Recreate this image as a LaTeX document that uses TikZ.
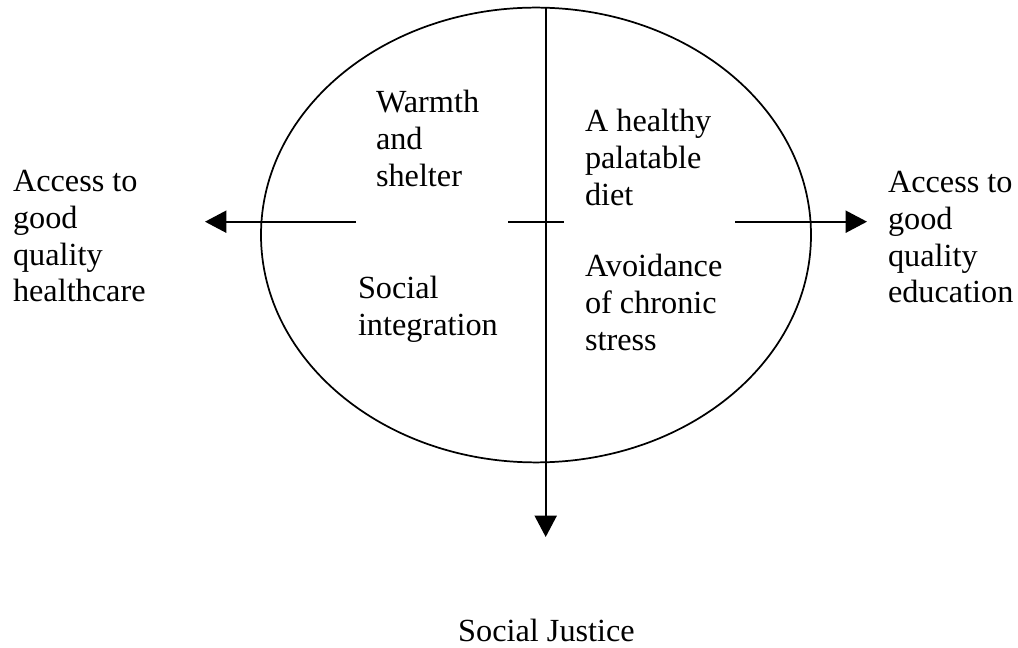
\documentclass[tikz,border=0pt]{standalone}
\usepackage{fontspec}
\setmainfont{Liberation Serif}
\usetikzlibrary{arrows.meta}
\tikzset{
  lbl/.style={inner sep=0pt, outer sep=0pt, anchor=base west, font=\fontsize{24.2}{27.4}\selectfont},
  conn/.style={line width=1.5pt},
  arr/.style={conn, -{Triangle[length=16pt,width=16.5pt]}},
  oval/.style={line width=1.3pt}
}
\newcommand{\ml}[1]{\begin{tabular}[t]{@{}l@{}}#1\end{tabular}}
\begin{document}
\begin{tikzpicture}[x=0.75pt,y=-0.75pt]
\useasboundingbox (0,0) rectangle (1018,648);
% ellipse
\draw[oval] (536,235) ellipse [x radius=275, y radius=227.4];
% coordinates
\coordinate (vtop) at (545.7,7.6);
\coordinate (vbot) at (545.7,537);
\coordinate (lstart) at (356,221.7);
\coordinate (lend) at (205,221.7);
\coordinate (mstart) at (508,221.7);
\coordinate (mend) at (564,221.7);
\coordinate (rstart) at (735,221.7);
\coordinate (rend) at (867,221.7);
% connectors
\draw[arr] (vtop) -- (vbot);
\draw[arr] (lstart) -- (lend);
\draw[conn] (mstart) -- (mend);
\draw[arr] (rstart) -- (rend);
% labels
\node[lbl] (health) at (13,192) {\ml{Access to\\good\\quality\\healthcare}};
\node[lbl] (educ) at (888,193) {\ml{Access to\\good\\quality\\education}};
\node[lbl] (warmth) at (376,113) {\ml{Warmth\\and\\shelter}};
\node[lbl] (diet) at (585,132) {\ml{A healthy\\palatable\\diet}};
\node[lbl] (social) at (358,299) {\ml{Social\\integration}};
\node[lbl] (stress) at (585,277) {\ml{Avoidance\\of chronic\\stress}};
\node[lbl, anchor=base] (justice) at (546.5,641) {Social Justice};
\end{tikzpicture}
\end{document}
